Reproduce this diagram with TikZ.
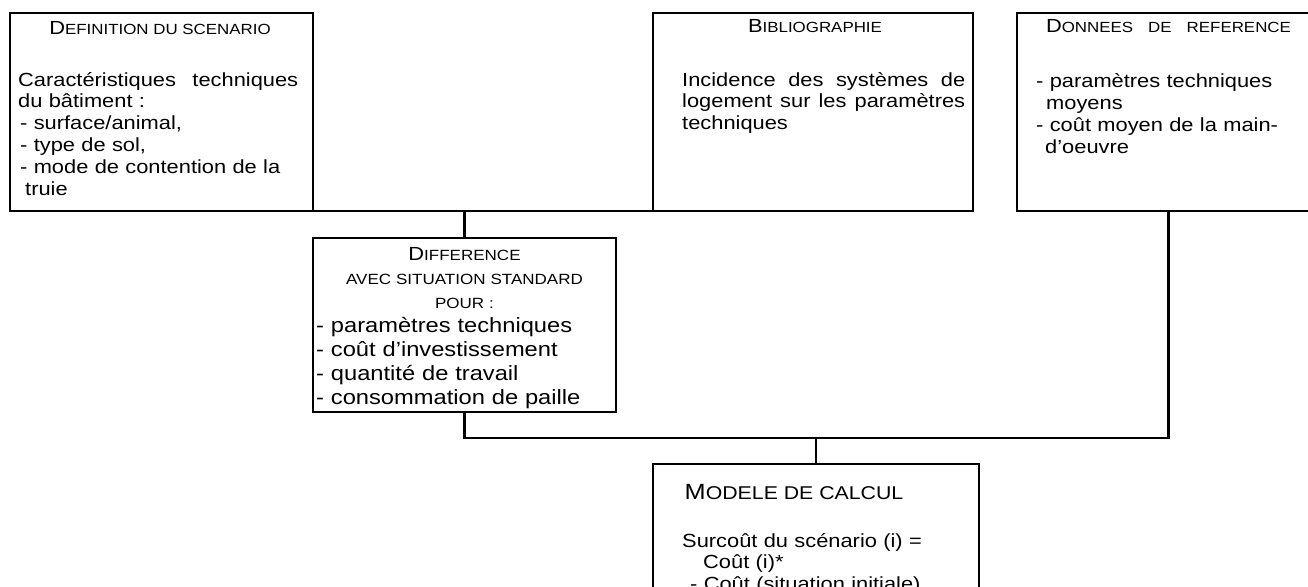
\documentclass[tikz,border=0pt]{standalone}
\usepackage{fontspec}
\setmainfont{Liberation Sans}[FakeStretch=1.15]
\usetikzlibrary{positioning,calc}

\newcommand{\bodyfont}{\fontsize{19}{21.8}\selectfont}
\newcommand{\largefont}{\fontsize{20.6}{24}\selectfont}
\newcommand{\capfont}{\fontsize{14.7}{24}\selectfont}
\newcommand{\initial}[2][19]{{\fontsize{#1}{#1}\selectfont #2}}

\tikzset{
  cadre/.style={draw, line width=2.2pt, inner sep=0pt, outer sep=0pt},
  liaison/.style={line width=2.2pt},
  titre/.style={anchor=base, inner sep=0pt, font=\capfont},
  texte/.style={anchor=base west, inner sep=0pt, align=left, font=\bodyfont}
}

\begin{document}
\begin{tikzpicture}[x=1pt, y=-1pt]
  \useasboundingbox (0,0) rectangle (1308,586);

  % cadres
  \node[cadre, minimum width=303pt, minimum height=198pt] (def) at (161.5,112) {};
  \node[cadre, minimum width=320pt, minimum height=198pt] (biblio) at (813,112) {};
  \node[cadre, minimum width=303pt, minimum height=198pt] (ref) at (1168.5,112) {};
  \node[cadre, minimum width=303pt, minimum height=174pt] (diff) at (464.5,325) {};
  \node[cadre, minimum width=326pt, minimum height=180pt] (calcul) at (816,554) {};

  % liaisons
  \draw[liaison] (def.south east) -- (biblio.south west);
  \draw[liaison] (diff.north) -- (diff.north |- def.south);
  \coordinate (bus) at (816,438);
  \draw[liaison] (diff.south) |- (bus) -| (ref.south);
  \draw[liaison] (bus) -- (calcul.north);

  % definition du scenario
  \node[titre] (deftit) at (160,35) {\initial{D}EFINITION DU SCENARIO};
  \node[texte, text width=280pt] (deftxt) at (18,86)
    {Caract\'eristiques\hfill techniques\\
     du b\^atiment :\\
     \hspace*{2pt}- surface/animal,\\
     \hspace*{2pt}- type de sol,\\
     \hspace*{2pt}- mode de contention de la\\
     \hspace*{7pt}truie};

  % bibliographie
  \node[titre] (bibtit) at (815,33) {\initial{B}IBLIOGRAPHIE};
  \node[texte, text width=283pt] (bibtxt) at (682,86)
    {Incidence\hfill des\hfill syst\`emes\hfill de\\
     logement\hfill sur\hfill les\hfill param\`etres\\
     techniques};

  % donnees de reference
  \node[titre] (reftit) at (1168.5,33) {\initial{D}ONNEES\hspace{15pt}DE\hspace{15pt}REFERENCE};
  \node[texte, text width=270pt] (reftxt) at (1036,88)
    {- param\`etres techniques\\
     \hspace*{10pt}moyens\\
     - co\^ut moyen de la main-\\
     \hspace*{9pt}d’oeuvre};

  % difference avec situation standard
  \node[titre, text width=303pt, align=center, font=\fontsize{14.8}{24}\selectfont] (difftit) at (464.5,260)
    {\initial{D}IFFERENCE\\ AVEC SITUATION STANDARD\\ POUR :};
  \node[texte, text width=295pt, font=\largefont] (difftxt) at (316,332)
    {- param\`etres techniques\\
     - co\^ut d’investissement\\
     - quantit\'e de travail\\
     - consommation de paille};

  % modele de calcul
  \node[titre, font=\fontsize{18.5}{22}\selectfont] (calcultit) at (794,499) {\initial[22]{M}ODELE DE CALCUL};
  \node[texte, text width=290pt] (calcultxt) at (682,547)
    {Surco\^ut du sc\'enario (i) =\\
     \hspace*{21pt}Co\^ut (i)*\\
     \hspace*{8pt}- Co\^ut (situation initiale)};
\end{tikzpicture}
\end{document}
